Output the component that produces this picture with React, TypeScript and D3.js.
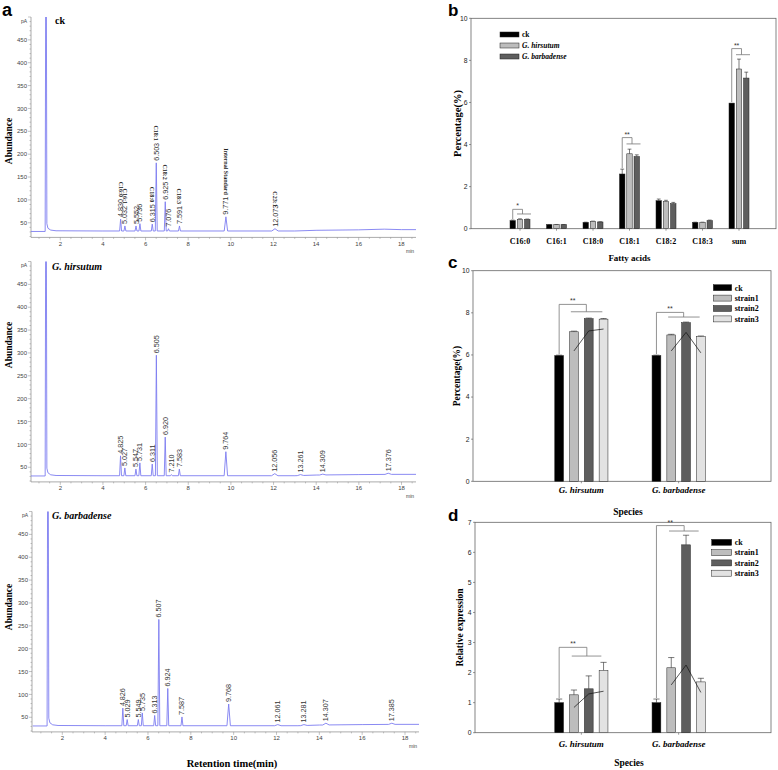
import React from "react";
import * as d3 from "d3";

const SERIF = "'Liberation Serif', 'Times New Roman', serif";
const SANS = "'Liberation Sans', Arial, sans-serif";

// ---------------- Panel a: chromatograms ----------------
const rtTicks = [2, 4, 6, 8, 10, 12, 14, 16, 18];
const abundanceTicks = [50, 100, 150, 200, 250, 300, 350, 400, 450];

// [retention time (min), apex abundance (pA)]
const ckPeaks: [number, number][] = [
  [1.33, 900], [4.83, 58], [5.032, 43], [5.552, 43], [5.736, 48], [6.315, 47], [6.503, 181],
  [6.925, 96], [7.076, 37], [7.591, 43], [9.771, 63], [12.073, 37],
];
const ckNames = ["", "C16:0", "C16:1", "", "", "C18:0", "C18:1", "C18:2", "", "C18:3", "Internal Standard", "C23:1"];
const ckBaseline: [number, number][] = [
  [0.62, 31], [1.29, 31], [1.37, 48], [1.42, 38], [1.55, 34], [1.8, 32.5], [4, 32], [13, 32],
  [14, 33.5], [16, 34.5], [17.2, 36], [18, 35], [18.7, 35],
];

const hirPeaks: [number, number][] = [
  [1.33, 900], [4.825, 75], [5.027, 48.5], [5.547, 46], [5.731, 59.5], [6.311, 57], [6.505, 295],
  [6.92, 116], [7.21, 34], [7.583, 46], [9.764, 84], [12.056, 36], [13.261, 34], [14.309, 35], [17.376, 37],
];
const hirNames: string[] = [];
const hirBaseline: [number, number][] = [
  [0.62, 31], [1.29, 31], [1.37, 48], [1.42, 38], [1.55, 33.5], [1.8, 32], [4, 31.5], [13, 31.5],
  [14, 33], [16, 34], [17.5, 34.5], [18.7, 34.5],
];

const barPeaks: [number, number][] = [
  [1.33, 900], [4.826, 70], [5.029, 45], [5.549, 45], [5.735, 59.5], [6.313, 54], [6.507, 264],
  [6.924, 113], [7.587, 50.7], [9.768, 79], [12.061, 34], [13.281, 34], [14.307, 37], [17.385, 37],
];
const barNames: string[] = [];
const barBaseline: [number, number][] = [
  [0.62, 31], [1.29, 31], [1.37, 48], [1.42, 38], [1.55, 33.5], [1.8, 32], [4, 31.5], [13, 31.5],
  [14, 33], [16, 34], [17.5, 34.5], [18.7, 34.5],
];

// ---------------- Panel b ----------------
const fattyAcids = ["C16:0", "C16:1", "C18:0", "C18:1", "C18:2", "C18:3", "sum"];
const bSeries = ["ck", "G. hirsutum", "G. barbadense"];
const bCk = [0.38, 0.19, 0.3, 2.6, 1.33, 0.3, 5.97];
const bHirsutum = [0.44, 0.19, 0.35, 3.56, 1.29, 0.3, 7.59];
const bBarbadense = [0.44, 0.19, 0.32, 3.43, 1.19, 0.38, 7.16];
const bCkErr = [0.03, 0.01, 0.01, 0.23, 0.08, 0.01, 0];
const bHirsutumErr = [0.03, 0.01, 0.01, 0.22, 0.06, 0.01, 0.47];
const bBarbadenseErr = [0.02, 0.01, 0.01, 0.08, 0.06, 0.03, 0.28];
const bTicks = [0, 2, 4, 6, 8, 10];
const bSig = [
  { cat: "C16:0", label: "*", top: 0.92, low: 0.7 },
  { cat: "C18:1", label: "**", top: 4.33, low: 4.03 },
  { cat: "sum", label: "**", top: 8.56, low: 8.27 },
];

// ---------------- Panel c ----------------
const species = ["G. hirsutum", "G. barbadense"];
const strains = ["ck", "strain1", "strain2", "strain3"];
const cCk = [5.97, 5.97];
const cStrain1 = [7.1, 6.95];
const cStrain2 = [7.72, 7.53];
const cStrain3 = [7.7, 6.87];
const cErr = [0.02, 0.03, 0.03, 0.03];
const cTrendHirsutum = [6.19, 7.14, 7.23];
const cTrendBarbadense = [6.19, 7.07, 6.1];
const cTicks = [0, 2, 4, 6, 8, 10];
const cSig = [
  { cat: "G. hirsutum", label: "**", top: 8.4, low: 8.05 },
  { cat: "G. barbadense", label: "**", top: 8.02, low: 7.8 },
];

// ---------------- Panel d ----------------
const dCk = [1.0, 1.0];
const dStrain1 = [1.26, 2.16];
const dStrain2 = [1.46, 6.25];
const dStrain3 = [2.07, 1.69];
const dCkErr = [0.12, 0.12];
const dStrain1Err = [0.16, 0.34];
const dStrain2Err = [0.43, 0.32];
const dStrain3Err = [0.27, 0.12];
const dTrendHirsutum = [0.84, 1.29, 1.38];
const dTrendBarbadense = [1.59, 2.25, 1.34];
const dTicks = [0, 1, 2, 3, 4, 5, 6, 7];
const dSig = [
  { cat: "G. hirsutum", label: "**", top: 2.84, low: 2.55 },
  { cat: "G. barbadense", label: "**", top: 6.89, low: 6.71 },
];

const LINE = "#7d7df0";
const AX = "#888";

type ChromProps = {
  id: string;
  peaks: [number, number][];
  baseline: [number, number][];
  names: string[];
  title: string;
  italic: boolean;
  top: number;
  x2: number;
  x18: number;
  left: number;
  right: number;
  titleX: number;
  titleY: number;
  abY: number;
};

function Chromatogram(p: ChromProps) {
  const y = d3.scaleLinear().domain([18, 500]).range([p.top + 220.4, p.top]);
  const x = d3.scaleLinear().domain([2, 18]).range([p.x2, p.x18]);
  const yB = y(18);
  const baseFn = d3
    .scaleLinear()
    .domain(p.baseline.map((d) => d[0]))
    .range(p.baseline.map((d) => d[1]))
    .clamp(true);
  const w = (rt: number) => (rt < 2 ? 0.04 : rt < 9 ? 0.045 : rt < 11 ? 0.08 : 0.15);
  const pts: [number, number][] = [];
  p.baseline.forEach(([t, v]) => {
    if (!p.peaks.some(([rt]) => Math.abs(t - rt) <= w(rt))) pts.push([t, v]);
  });
  p.peaks.forEach(([rt, h]) => {
    const ww = w(rt);
    pts.push([rt - ww, baseFn(rt - ww)], [rt, h], [rt + ww, baseFn(rt + ww)]);
  });
  pts.sort((a, b) => a[0] - b[0]);
  const line = d3
    .line<[number, number]>()
    .x((d) => x(d[0]))
    .y((d) => y(d[1]));
  const minorY = d3.range(20, 501, 10);
  const minorX = d3.range(1, 18.6, 0.5);
  return (
    <g>
      <defs>
        <clipPath id={p.id}>
          <rect x={p.left} y={p.top} width={p.right - p.left} height={yB - p.top} />
        </clipPath>
      </defs>
      <line x1={p.left} x2={p.left} y1={p.top} y2={yB} stroke={AX} strokeWidth={0.7} />
      {minorY.map((v) => (
        <line key={"my" + v} x1={p.left - (v % 50 === 0 ? 3 : 1.5)} x2={p.left} y1={y(v)} y2={y(v)} stroke={AX} strokeWidth={0.5} />
      ))}
      {abundanceTicks.map((v) => (
        <text key={"yt" + v} x={p.left - 4} y={y(v)} dy="0.35em" textAnchor="end" fontFamily={SANS} fontSize={6} fill="#444">
          {v}
        </text>
      ))}
      <text x={p.left - 4} y={y(500) + 4} dy="0.35em" textAnchor="end" fontFamily={SANS} fontSize={5} fill="#444">
        pA
      </text>
      <line x1={p.left} x2={p.right} y1={yB} y2={yB} stroke={AX} strokeWidth={0.7} />
      {minorX.map((t) => (
        <line key={"mx" + t} x1={x(t)} x2={x(t)} y1={yB} y2={yB + (t % 2 === 0 ? 3 : 1.5)} stroke={AX} strokeWidth={0.5} />
      ))}
      {rtTicks.map((t) => (
        <text key={"xt" + t} x={x(t)} y={yB + 8.5} textAnchor="middle" fontFamily={SANS} fontSize={6} fill="#444">
          {t}
        </text>
      ))}
      <text x={p.right - 6} y={yB + 16} textAnchor="middle" fontFamily={SANS} fontSize={5} fill="#444">
        min
      </text>
      <path d={line(pts) || ""} fill="none" stroke={LINE} strokeWidth={0.9} clipPath={`url(#${p.id})`} />
      {p.peaks.map(([rt, h], i) => {
        if (rt < 2) return null;
        const px = x(rt);
        const py = y(h) - 2;
        const name = p.names[i];
        return (
          <g key={"pl" + i}>
            <text transform={`translate(${px},${py}) rotate(-90)`} dy="0.35em" fontFamily={SANS} fontSize={7.2} fill="#333">
              {rt.toFixed(3)}
            </text>
            {name ? (
              <text
                transform={`translate(${px},${py - 20}) rotate(90)`}
                dy="0.35em"
                textAnchor="end"
                fontFamily={SERIF}
                fontWeight="bold"
                fontSize={6}
                fill="#222"
              >
                {name}
              </text>
            ) : null}
          </g>
        );
      })}
      <text
        x={p.titleX}
        y={p.titleY}
        fontFamily={SERIF}
        fontWeight="bold"
        fontStyle={p.italic ? "italic" : "normal"}
        fontSize={10}
        fill="#000"
      >
        {p.title}
      </text>
      <text
        transform={`translate(9,${p.abY}) rotate(-90)`}
        dy="0.35em"
        textAnchor="middle"
        fontFamily={SERIF}
        fontWeight="bold"
        fontSize={9.5}
      >
        Abundance
      </text>
    </g>
  );
}

type Sig = { cat: string; label: string; top: number; low: number };
type BarPanelProps = {
  cats: string[];
  series: string[];
  values: number[][];
  errors: number[][];
  colors: string[];
  seriesItalic: boolean[];
  catItalic: boolean;
  frame: { l: number; t: number; r: number; b: number };
  yMax: number;
  ticks: number[];
  catRange: [number, number];
  inner: [number, number];
  innerPad: number;
  sig: Sig[];
  br: { hx: number; lx0: number; lx1: number };
  trends?: { cat: string; vals: number[] }[];
  legend: { x: number; y0: number; step: number; sw: number; sh: number; fs: number };
  catFs: number;
  catY: number;
  yTitle: string;
  yTitleX: number;
  yTitleFs: number;
  xTitle: string;
  xTitleY: number;
  xTitleFs: number;
  letter: string;
  letterX: number;
  letterY: number;
};

function BarPanel(p: BarPanelProps) {
  const y = d3.scaleLinear().domain([0, p.yMax]).range([p.frame.b, p.frame.t]);
  const x0 = d3.scaleBand().domain(p.cats).range(p.catRange).paddingInner(0).paddingOuter(0);
  const x1 = d3.scaleBand().domain(p.series).range(p.inner).paddingInner(p.innerPad).paddingOuter(0);
  const bw = x1.bandwidth();
  const cx = (c: string) => (x0(c) as number) + x0.bandwidth() / 2;
  const sx = (s: string) => (x1(s) as number) + bw / 2;
  const gray = "#777";
  return (
    <g>
      <rect x={p.frame.l} y={p.frame.t} width={p.frame.r - p.frame.l} height={p.frame.b - p.frame.t} fill="none" stroke="#666" strokeWidth={0.8} />
      {p.ticks.map((v) => (
        <g key={"t" + v}>
          <line x1={p.frame.l - 2} x2={p.frame.l} y1={y(v)} y2={y(v)} stroke="#555" strokeWidth={0.6} />
          <text x={p.frame.l - 3.5} y={y(v)} dy="0.35em" textAnchor="end" fontFamily={SANS} fontSize={6.8} fill="#222">
            {v}
          </text>
        </g>
      ))}
      {p.cats.map((c) => (
        <g key={"c" + c}>
          <line x1={cx(c)} x2={cx(c)} y1={p.frame.b} y2={p.frame.b + 2} stroke="#555" strokeWidth={0.6} />
          <text
            x={cx(c)}
            y={p.catY}
            dy="0.35em"
            textAnchor="middle"
            fontFamily={SERIF}
            fontWeight="bold"
            fontStyle={p.catItalic ? "italic" : "normal"}
            fontSize={p.catFs}
          >
            {c}
          </text>
        </g>
      ))}
      {p.series.map((s, si) =>
        p.cats.map((c, ci) => {
          const v = p.values[si][ci];
          const e = p.errors[si][ci];
          const bx = cx(c) + (x1(s) as number);
          const mx = bx + bw / 2;
          return (
            <g key={s + c}>
              {e > 0 ? (
                <g stroke="#222" strokeWidth={0.6}>
                  <line x1={mx} x2={mx} y1={y(v)} y2={y(v + e)} />
                  <line x1={mx - bw * 0.35} x2={mx + bw * 0.35} y1={y(v + e)} y2={y(v + e)} />
                </g>
              ) : null}
              <rect x={bx} y={y(v)} width={bw} height={y(0) - y(v)} fill={p.colors[si]} stroke="#222" strokeWidth={0.5} />
            </g>
          );
        })
      )}
      {p.trends?.map((tr) => {
        const line = d3
          .line<number>()
          .x((_, i) => cx(tr.cat) + sx(p.series[i + 1]))
          .y((d) => y(d));
        return <path key={"tr" + tr.cat} d={line(tr.vals) || ""} fill="none" stroke="#111" strokeWidth={0.7} />;
      })}
      {p.sig.map((s) => {
        const ci = p.cats.indexOf(s.cat);
        const c = cx(s.cat);
        const vx = c + sx(p.series[0]);
        const start = p.values[0][ci] + p.errors[0][ci];
        const hx = c + p.br.hx;
        return (
          <g key={"sig" + s.cat}>
            <path
              d={`M${vx},${y(start) - 1}V${y(s.top)}H${hx}V${y(s.low)}`}
              fill="none"
              stroke={gray}
              strokeWidth={0.8}
            />
            <line x1={c + p.br.lx0} x2={c + p.br.lx1} y1={y(s.low)} y2={y(s.low)} stroke={gray} strokeWidth={0.8} />
            <text x={(vx + hx) / 2} y={y(s.top) - 1} textAnchor="middle" fontFamily={SANS} fontSize={7} fill="#333">
              {s.label}
            </text>
          </g>
        );
      })}
      {p.series.map((s, i) => (
        <g key={"lg" + s}>
          <rect
            x={p.legend.x}
            y={p.legend.y0 + i * p.legend.step - p.legend.sh / 2}
            width={p.legend.sw}
            height={p.legend.sh}
            fill={p.colors[i]}
            stroke="#222"
            strokeWidth={0.5}
          />
          <text
            x={p.legend.x + p.legend.sw + 3}
            y={p.legend.y0 + i * p.legend.step}
            dy="0.35em"
            fontFamily={SERIF}
            fontWeight="bold"
            fontStyle={p.seriesItalic[i] ? "italic" : "normal"}
            fontSize={p.legend.fs}
          >
            {s}
          </text>
        </g>
      ))}
      <text
        transform={`translate(${p.yTitleX},${(p.frame.t + p.frame.b) / 2}) rotate(-90)`}
        dy="0.35em"
        textAnchor="middle"
        fontFamily={SERIF}
        fontWeight="bold"
        fontSize={p.yTitleFs}
      >
        {p.yTitle}
      </text>
      <text
        x={(p.frame.l + p.frame.r) / 2 + 6}
        y={p.xTitleY}
        dy="0.35em"
        textAnchor="middle"
        fontFamily={SERIF}
        fontWeight="bold"
        fontSize={p.xTitleFs}
      >
        {p.xTitle}
      </text>
      <text x={p.letterX} y={p.letterY} fontFamily={SANS} fontWeight="bold" fontSize={17}>
        {p.letter}
      </text>
    </g>
  );
}

export default function App() {
  const strainColors = ["#000000", "#bdbdbd", "#5e5e5e", "#e2e2e2"];
  return (
    <svg width={778} height={770} style={{ position: "absolute", left: 0, top: 0, background: "#fff" }}>
      <rect width={778} height={770} fill="#fff" />
      <text x={2} y={16} fontFamily={SANS} fontWeight="bold" fontSize={18}>
        a
      </text>
      <Chromatogram
        id="c1"
        peaks={ckPeaks}
        baseline={ckBaseline}
        names={ckNames}
        title="ck"
        italic={false}
        top={17}
        x2={60.3}
        x18={401.3}
        left={31}
        right={416}
        titleX={55}
        titleY={24}
        abY={141}
      />
      <Chromatogram
        id="c2"
        peaks={hirPeaks}
        baseline={hirBaseline}
        names={hirNames}
        title="G. hirsutum"
        italic={true}
        top={261.5}
        x2={60.3}
        x18={401.5}
        left={31}
        right={416}
        titleX={52}
        titleY={270}
        abY={345}
      />
      <Chromatogram
        id="c3"
        peaks={barPeaks}
        baseline={barBaseline}
        names={barNames}
        title="G. barbadense"
        italic={true}
        top={511.5}
        x2={62.3}
        x18={405}
        left={32}
        right={419}
        titleX={52}
        titleY={519}
        abY={607}
      />
      <text x={232} y={763} dy="0.35em" textAnchor="middle" fontFamily={SERIF} fontWeight="bold" fontSize={10.5}>
        Retention time(min)
      </text>

      <BarPanel
        cats={fattyAcids}
        series={bSeries}
        values={[bCk, bHirsutum, bBarbadense]}
        errors={[bCkErr, bHirsutumErr, bBarbadenseErr]}
        colors={["#000000", "#bdbdbd", "#5e5e5e"]}
        seriesItalic={[false, true, true]}
        catItalic={false}
        frame={{ l: 471, t: 18.3, r: 776, b: 228.7 }}
        yMax={10}
        ticks={bTicks}
        catRange={[501.75, 757.25]}
        inner={[-10, 10]}
        innerPad={0.25}
        sig={bSig}
        br={{ hx: 2.5, lx0: -3, lx1: 11 }}
        legend={{ x: 500, y0: 34.5, step: 11, sw: 19, sh: 5, fs: 7.5 }}
        catFs={8}
        catY={241}
        yTitle="Percentage(%)"
        yTitleX={457}
        yTitleFs={10.5}
        xTitle="Fatty acids"
        xTitleY={258}
        xTitleFs={9}
        letter="b"
        letterX={448}
        letterY={16}
      />
      <BarPanel
        cats={species}
        series={strains}
        values={[cCk, cStrain1, cStrain2, cStrain3]}
        errors={strains.map((_, i) => [cErr[i], cErr[i]])}
        colors={strainColors}
        seriesItalic={[false, false, false, false]}
        catItalic={true}
        frame={{ l: 473, t: 270.7, r: 771, b: 481.3 }}
        yMax={10}
        ticks={cTicks}
        catRange={[532.7, 727.3]}
        inner={[-26.6, 26.6]}
        innerPad={0.405}
        sig={cSig}
        br={{ hx: 5, lx0: -10.5, lx1: 21 }}
        trends={[
          { cat: "G. hirsutum", vals: cTrendHirsutum },
          { cat: "G. barbadense", vals: cTrendBarbadense },
        ]}
        legend={{ x: 713.3, y0: 287.7, step: 10.4, sw: 18.4, sh: 6, fs: 8 }}
        catFs={9}
        catY={490}
        yTitle="Percentage(%)"
        yTitleX={457}
        yTitleFs={9.5}
        xTitle="Species"
        xTitleY={511.7}
        xTitleFs={9.5}
        letter="c"
        letterX={448}
        letterY={268}
      />
      <BarPanel
        cats={species}
        series={strains}
        values={[dCk, dStrain1, dStrain2, dStrain3]}
        errors={[dCkErr, dStrain1Err, dStrain2Err, dStrain3Err]}
        colors={strainColors}
        seriesItalic={[false, false, false, false]}
        catItalic={true}
        frame={{ l: 475, t: 522.3, r: 771, b: 732.7 }}
        yMax={7}
        ticks={dTicks}
        catRange={[532.7, 727.3]}
        inner={[-26.6, 26.6]}
        innerPad={0.405}
        sig={dSig}
        br={{ hx: 5.5, lx0: -9.6, lx1: 20 }}
        trends={[
          { cat: "G. hirsutum", vals: dTrendHirsutum },
          { cat: "G. barbadense", vals: dTrendBarbadense },
        ]}
        legend={{ x: 711.7, y0: 542.3, step: 10.3, sw: 20, sh: 6, fs: 8 }}
        catFs={9}
        catY={744}
        yTitle="Relative expression"
        yTitleX={460}
        yTitleFs={9.5}
        xTitle="Species"
        xTitleY={763}
        xTitleFs={9.5}
        letter="d"
        letterX={448}
        letterY={521}
      />
    </svg>
  );
}
